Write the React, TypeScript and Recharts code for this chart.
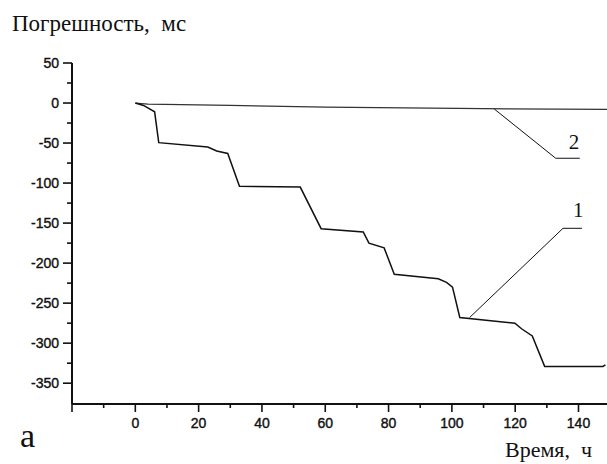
import React from 'react';
import { LineChart, Line, XAxis, YAxis, ReferenceDot } from 'recharts';

// axis ticks (minor ones have no label)
const timeTicks = [-20, -10, 0, 10, 20, 30, 40, 50, 60, 70, 80, 90, 100, 110, 120, 130, 140];
const errorTicks = [-350, -325, -300, -275, -250, -225, -200, -175, -150, -125, -100, -75, -50, -25, 0, 25, 50];

// curve 1 – stepwise drift
const curve1Time = [0, 2.6, 6.1, 7.4, 22.9, 25.7, 29.2, 32.9, 52.1, 58.7, 72, 73.8, 78.6, 81.8, 95.7, 98.3, 100.2, 102.5, 119.9, 122, 125.4, 129.3, 147.7, 148.5];
const curve1Error = [0, -3, -11, -49.5, -55, -60, -63, -104, -105, -157, -161, -175, -181, -214, -219.5, -224, -230, -268, -275, -282, -291, -329, -329, -327];

// curve 2 – almost flat
const curve2Time = [0, 4, 30, 60, 110, 149];
const curve2Error = [0, -1.5, -3, -5, -7, -8];

// callout leaders
const leader1Time = [105.6, 135.1, 141.1];
const leader1Error = [-268, -156.5, -156.5];
const leader2Time = [113.4, 132.8, 140.4];
const leader2Error = [-7.5, -69, -69];

const curveNames = ['1', '2'];
const nameTime = [139.9, 138.6];
const nameError = [-133.8, -48.8];

const toPoints = (t: number[], v: number[]) => t.map((x, i) => ({ t: x, v: v[i] }));

const ink = '#111';
const sans = '"Liberation Sans", Arial, sans-serif';
const serif = '"Liberation Serif", "Times New Roman", serif';

const YTick = (props: any) => {
  const { x, y, payload } = props;
  const major = payload.value % 50 === 0;
  return (
    <g>
      <line x1={x - (major ? 9 : 5)} x2={x} y1={y} y2={y} stroke={ink} strokeWidth={1.6} />
      {major && (
        <text x={x - 13} y={y + 5} textAnchor="end" fontSize={14} fontFamily={sans} fill={ink} stroke={ink} strokeWidth={0.4}>
          {payload.value}
        </text>
      )}
    </g>
  );
};

const XTick = (props: any) => {
  const { x, y, payload } = props;
  const major = payload.value % 20 === 0;
  return (
    <g>
      <line x1={x} x2={x} y1={y} y2={y + (major ? 8 : 4)} stroke={ink} strokeWidth={1.6} />
      {major && payload.value >= 0 && (
        <text x={x} y={y + 24} textAnchor="middle" fontSize={14} fontFamily={sans} fill={ink} stroke={ink} strokeWidth={0.4}>
          {payload.value}
        </text>
      )}
    </g>
  );
};

export default function App() {
  return (
    <div style={{ position: 'absolute', left: 0, top: 0, width: 607, height: 464, background: '#fff' }}>
      <LineChart width={607} height={464} margin={{ top: 63, right: 0, left: 0, bottom: 30 }}>
        <XAxis
          dataKey="t"
          type="number"
          domain={[-20, 149]}
          allowDataOverflow
          ticks={timeTicks}
          interval={0}
          height={30}
          tickSize={0}
          tickMargin={0}
          tickLine={false}
          tick={<XTick />}
          axisLine={{ stroke: ink, strokeWidth: 2 }}
        />
        <YAxis
          type="number"
          domain={[-376, 50]}
          allowDataOverflow
          ticks={errorTicks}
          interval={0}
          width={72}
          tickSize={0}
          tickMargin={0}
          tickLine={false}
          tick={<YTick />}
          axisLine={{ stroke: ink, strokeWidth: 2 }}
        />
        <Line data={toPoints(curve2Time, curve2Error)} dataKey="v" type="linear" stroke="#333" strokeWidth={1.3} dot={false} isAnimationActive={false} />
        <Line data={toPoints(curve1Time, curve1Error)} dataKey="v" type="linear" stroke={ink} strokeWidth={1.5} dot={false} isAnimationActive={false} />
        <Line data={toPoints(leader1Time, leader1Error)} dataKey="v" type="linear" stroke={ink} strokeWidth={1} dot={false} isAnimationActive={false} />
        <Line data={toPoints(leader2Time, leader2Error)} dataKey="v" type="linear" stroke={ink} strokeWidth={1} dot={false} isAnimationActive={false} />
        {curveNames.map((name, i) => (
          <ReferenceDot
            key={name}
            x={nameTime[i]}
            y={nameError[i]}
            r={0}
            shape={(p: any) => (
              <text x={p.cx} y={p.cy + 7} textAnchor="middle" fontSize={21} fontFamily={serif} fill={ink}>
                {name}
              </text>
            )}
          />
        ))}
      </LineChart>
      <svg width={607} height={464} style={{ position: 'absolute', left: 0, top: 0, pointerEvents: 'none' }}>
        <text x={12} y={31} fontSize={23} fontFamily={serif} fill={ink} style={{ whiteSpace: 'pre' }}>
          {'Погрешность,  мс'}
        </text>
        <text x={505} y={457} fontSize={22} fontFamily={serif} fill={ink} style={{ whiteSpace: 'pre' }}>
          {'Время,  ч'}
        </text>
        <text x={20} y={447} fontSize={34} fontFamily={serif} fill={ink}>
          а
        </text>
      </svg>
    </div>
  );
}
